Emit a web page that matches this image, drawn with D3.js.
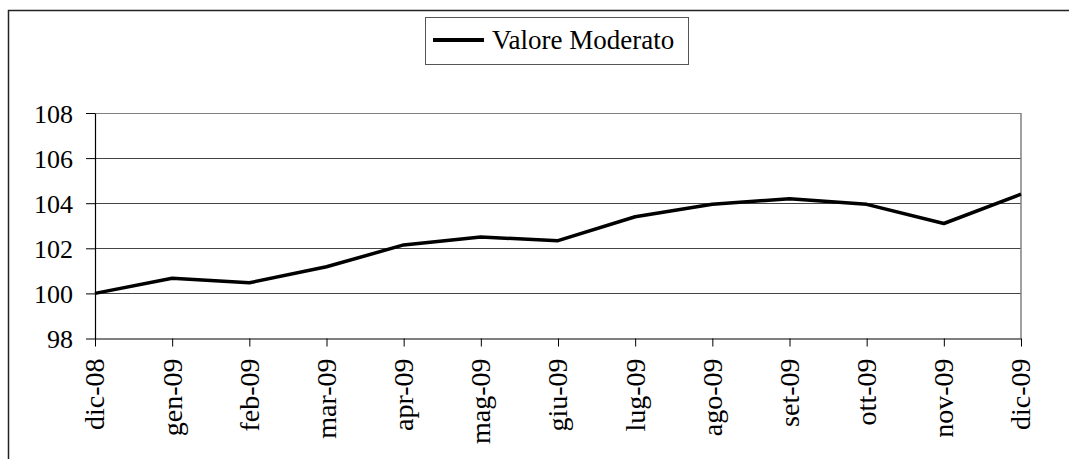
<!DOCTYPE html>
<html>
<head>
<meta charset="utf-8">
<script src="https://cdn.jsdelivr.net/npm/d3@7"></script>
<style>
  body { margin: 0; background: #fff; }
  svg text { font-family: "Liberation Serif", Tinos, "Times New Roman", Times, "DejaVu Serif", serif !important; }
</style>
</head>
<body>
<div id="chart"></div>
<script>
var months = ["dic-08", "gen-09", "feb-09", "mar-09", "apr-09", "mag-09", "giu-09",
              "lug-09", "ago-09", "set-09", "ott-09", "nov-09", "dic-09"];
var valoreModerato = [100.0, 100.67, 100.47, 101.18, 102.15, 102.5, 102.34,
                      103.4, 103.95, 104.2, 103.95, 103.1, 104.4];
var yTicks = [98, 100, 102, 104, 106, 108];
var seriesName = "Valore Moderato";

var width = 1069, height = 459;
var plotL = 95, plotR = 1021, plotT = 113, plotB = 338.5;

var svg = d3.select("#chart").append("svg")
    .attr("width", width).attr("height", height);

// outer chart frame (cut off at right and bottom)
svg.append("rect")
    .attr("x", 8.5).attr("y", 10.5)
    .attr("width", 1100).attr("height", 500)
    .attr("fill", "none").attr("stroke", "#222").attr("stroke-width", 1.5);

var x = d3.scalePoint().domain(months).range([plotL, plotR]);
var y = d3.scaleLinear().domain([98, 108]).range([plotB, plotT]);

// gridlines
svg.append("g").selectAll("line").data(yTicks.slice(1))
  .join("line")
    .attr("x1", plotL).attr("x2", plotR)
    .attr("y1", function(d) { return Math.round(y(d)) + 0.5; })
    .attr("y2", function(d) { return Math.round(y(d)) + 0.5; })
    .attr("stroke", function(d) { return d == 108 ? "#808080" : "#444"; })
    .attr("stroke-width", 1);

// right border of plot area
svg.append("line")
    .attr("x1", plotR).attr("x2", plotR).attr("y1", plotT).attr("y2", plotB)
    .attr("stroke", "#808080").attr("stroke-width", 1.5);

// y axis
var yAxis = svg.append("g")
    .attr("transform", "translate(" + plotL + ",0)")
    .attr("font-family", null)
    .call(d3.axisLeft(y).tickValues(yTicks).tickSize(9).tickPadding(13).tickSizeOuter(0));
yAxis.select(".domain").attr("stroke", "#000").attr("stroke-width", 1.2);
yAxis.selectAll(".tick line").attr("stroke", "#000");
yAxis.selectAll(".tick text")
    .attr("fill", "#000")
    .style("font-size", "26px")
    .attr("dy", "0.35em");

// x axis
var xAxis = svg.append("g")
    .attr("transform", "translate(0," + plotB + ")")
    .call(d3.axisBottom(x).tickSize(8).tickSizeOuter(0));
xAxis.select(".domain").attr("stroke", "#000").attr("stroke-width", 1.2);
xAxis.selectAll(".tick line").attr("stroke", "#000");
xAxis.selectAll(".tick text")
    .attr("fill", "#000")
    .style("font-size", "28px")
    .attr("text-anchor", "end")
    .attr("transform", "rotate(-90)")
    .attr("x", -20)
    .attr("y", 0)
    .attr("dy", "0.32em");

// series line
var line = d3.line()
    .x(function(d, i) { return x(months[i]); })
    .y(function(d) { return y(d); });

svg.append("path")
    .datum(valoreModerato)
    .attr("d", line)
    .attr("fill", "none")
    .attr("stroke", "#000")
    .attr("stroke-width", 3.5)
    .attr("stroke-linejoin", "round");

// legend
var legend = svg.append("g");
legend.append("rect")
    .attr("x", 425.5).attr("y", 17.5)
    .attr("width", 263).attr("height", 47)
    .attr("fill", "#fff").attr("stroke", "#555").attr("stroke-width", 1);
legend.append("line")
    .attr("x1", 433).attr("x2", 484).attr("y1", 40).attr("y2", 40)
    .attr("stroke", "#000").attr("stroke-width", 4);
legend.append("text")
    .attr("x", 492).attr("y", 49)
    .style("font-size", "27px")
    .attr("fill", "#000")
    .text(seriesName);
</script>
</body>
</html>
